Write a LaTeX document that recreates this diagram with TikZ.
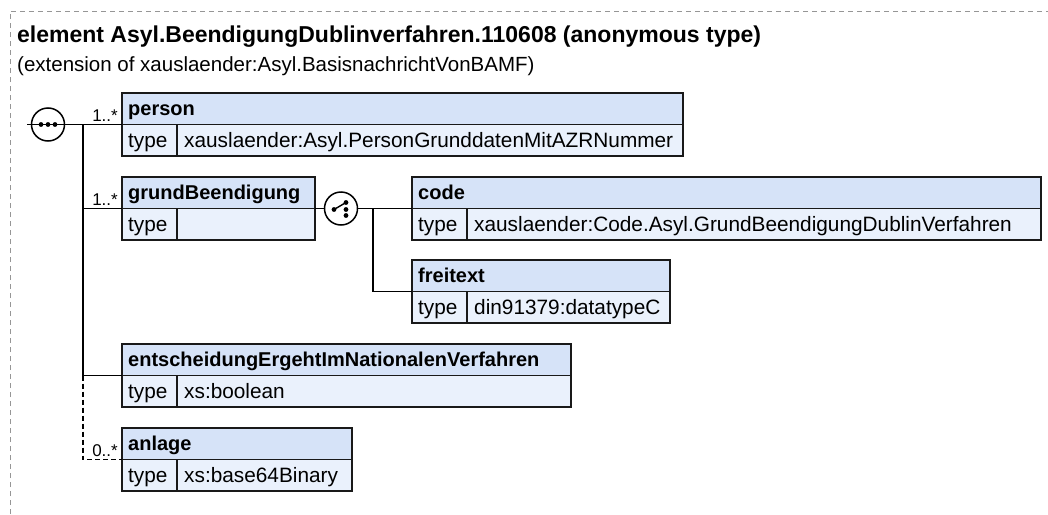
\documentclass[tikz,border=0pt]{standalone}
\usepackage{fontspec}
\setmainfont{Liberation Sans}
\definecolor{HeadClr}{RGB}{214,227,248}
\definecolor{TypeClr}{RGB}{234,241,252}
\definecolor{FrameClr}{RGB}{150,150,150}
\tikzset{
  cell/.style={draw=black!90,line width=1.3pt,inner sep=0pt,outer sep=0pt,anchor=north west,minimum height=31.5pt},
  headcell/.style={cell,fill=HeadClr},
  typecell/.style={cell,fill=TypeClr},
  boxtext/.style={anchor=base west,inner sep=0pt,font=\fontsize{20.8}{24}\selectfont},
  headtext/.style={anchor=base west,inner sep=0pt,font=\bfseries\fontsize{20}{24}\selectfont},
  mult/.style={anchor=base east,inner sep=0pt,font=\fontsize{17}{19}\selectfont},
  conn/.style={line width=1.3pt},
  optconn/.style={conn,dash pattern=on 5pt off 3pt},
  symb/.style={circle,draw,line width=1.5pt,fill=white,minimum size=33pt,inner sep=0pt},
}
\newcommand{\ElemBox}[6]{%
  \node[headcell,minimum width=#4pt] (#1) at (#2,#3) {};
  \node[headtext] (#1-n) at ([xshift=6pt,yshift=-7pt]#1.west) {#5};
  \node[typecell,minimum width=55pt] (#1-k) at (#1.south west) {};
  \node[boxtext] (#1-kt) at ([xshift=6pt,yshift=-7pt]#1-k.west) {type};
  \node[typecell,minimum width=#4pt-55pt] (#1-v) at (#1-k.north east) {};
  \node[boxtext] (#1-vt) at ([xshift=7pt,yshift=-7pt]#1-v.west) {#6};
}

\begin{document}
\begin{tikzpicture}[x=1pt,y=-1pt]
\useasboundingbox (0,0) rectangle (1048,514);
\draw[FrameClr,line width=1pt,dash pattern=on 5pt off 4pt] (10,514) -- (10,11) -- (1048,11);

\node[anchor=base west,inner sep=0pt,font=\bfseries\fontsize{23}{27}\selectfont] (title) at (17,42) {element Asyl.BeendigungDublinverfahren.110608 (anonymous type)};
\node[anchor=base west,inner sep=0pt,font=\fontsize{20.5}{24}\selectfont] (subtitle) at (17,71) {(extension of xauslaender:Asyl.BasisnachrichtVonBAMF)};

\ElemBox{person}{122}{93}{561}{person}{xauslaender:Asyl.PersonGrunddatenMitAZRNummer}
\ElemBox{grund}{122}{177}{193}{grundBeendigung}{}
\ElemBox{code}{412}{177}{629}{code}{xauslaender:Code.Asyl.GrundBeendigungDublinVerfahren}
\ElemBox{frei}{412}{260}{258}{freitext}{din91379:datatypeC}
\ElemBox{ents}{122}{344}{449}{entscheidungErgehtImNationalenVerfahren}{xs:boolean}
\ElemBox{anlage}{122}{428}{230}{anlage}{xs:base64Binary}

\node[symb] (seq) at (48,124.5) {};
\node[symb] (cho) at (341,208.5) {};
\coordinate (stub) at (27,124.5);
\coordinate (fork) at (83,124.5);
\coordinate (fork2) at (373,208.5);

\draw[conn] (stub) -- (seq.west);
\draw[conn] (seq.west) -- (seq.east);
\draw[conn] (seq.east) -- (person.south west);
\draw[conn] (fork) |- (grund.south west);
\draw[conn] (fork) |- (ents.south west);
\draw[optconn] (fork |- ents.south west) |- (anlage.south west);
\draw[conn] (grund.south east) -- (cho.west);
\draw[conn] (cho.east) -- (code.south west);
\draw[conn] (fork2) |- (frei.south west);

\foreach \dx in {-7,0,7}
  \fill ([shift={(\dx,0)}]seq.center) circle (2.4pt);
\draw[line width=1.4pt] ([shift={(-7,1)}]cho.center) -- ([shift={(5,-6)}]cho.center);
\foreach \p in {(-7,1),(5,-6),(5,1),(5,7)}
  \fill ([shift={\p}]cho.center) circle (2.4pt);

\node[mult] (m-person) at (118,121) {1..*};
\node[mult] (m-grund) at (118,205) {1..*};
\node[mult] (m-anlage) at (118,456) {0..*};
\end{tikzpicture}
\end{document}
